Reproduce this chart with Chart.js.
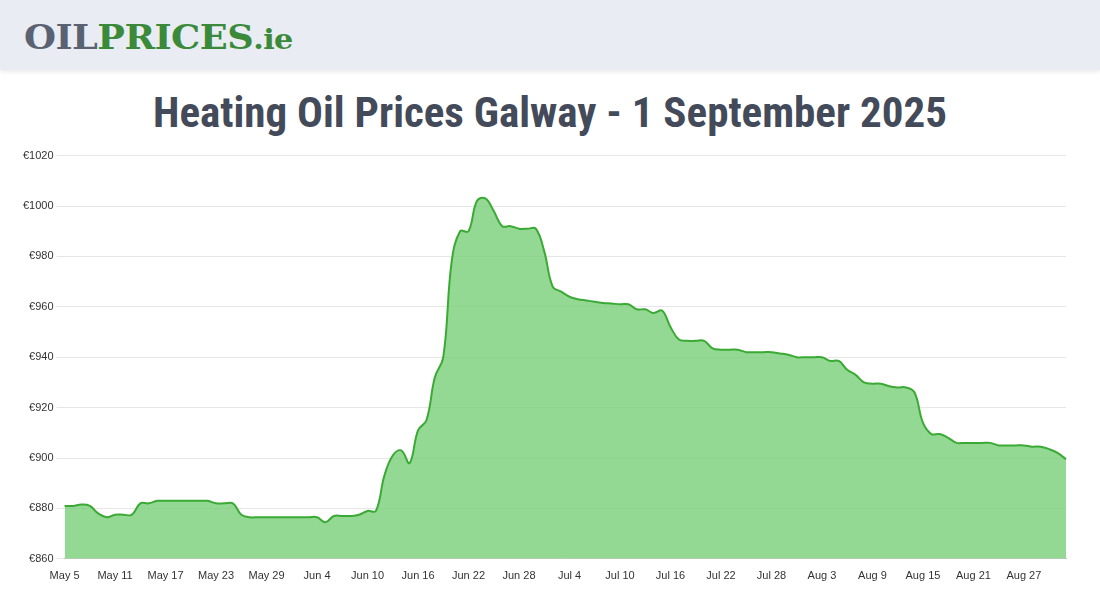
<!DOCTYPE html>
<html><head><meta charset="utf-8">
<script src="https://cdn.jsdelivr.net/npm/chart.js@4"></script>
<style>
body{margin:0;width:1100px;height:600px;background:#fff;font-family:"Liberation Sans",Arial,sans-serif;overflow:hidden}
#hdr{position:absolute;left:0;top:0;width:1100px;height:70px;background:#e9ecf3;box-shadow:0 2px 4px rgba(0,0,0,0.08)}
#logo{position:absolute;left:24px;top:17px;font-family:"DejaVu Serif",serif;font-weight:900;font-size:34px;letter-spacing:-0.5px;line-height:40px;transform:scaleX(1.08);transform-origin:left}
#title{position:absolute;left:0;top:87px;width:1100px;text-align:center;font-family:"Liberation Sans Narrow","Roboto Condensed",sans-serif;font-weight:bold;font-size:43px;color:#434a59}
#wrap{position:absolute;left:20px;top:146px;width:1080px;height:440px}
</style></head><body>
<div id="hdr"><div id="logo"><span style="color:#5a6272">OIL</span><span style="color:#3a8a3a">PRICES</span><span style="color:#3a8a3a;font-size:28px">.ie</span></div></div>
<div id="title">Heating Oil Prices Galway - 1 September 2025</div>
<div id="wrap"><canvas id="c"></canvas></div>
<script>
const startDate = [2025, 4, 5]; // May 5
const prices = [881,881,881.5,881,878,876.5,877.5,877.5,877.5,882,
882,883,883,883,883,883,883,883,882,882,
882,877.5,876.5,876.5,876.5,876.5,876.5,876.5,876.5,876.5,
876.5,874.5,877,877,877,877.5,879,879,893,901,
903,898,911,915,932,940,978,990,990,1002,
1003,998,992,992,991,991,991,982,968,966,
964,963,962.5,962,961.5,961.3,961,961,959,959,
957.5,958.5,952,947,946.5,946.5,946.5,943.5,943,943,
943,942,942,942,942,941.5,941,940,940,940,
940,938.5,938.5,935,933,930,929.5,929.5,928.5,928,
928,926,914,909.5,909.5,908,906,906,906,906,
906,905,905,905,905,904.5,904.5,903.5,902,899.5];
const months = ["Jan","Feb","Mar","Apr","May","Jun","Jul","Aug","Sep","Oct","Nov","Dec"];
const labels = prices.map((_, i) => {
  const d = new Date(startDate[0], startDate[1], startDate[2] + i);
  return months[d.getMonth()] + " " + d.getDate();
});
new Chart(document.getElementById('c'), {
  type: 'line',
  data: { labels, datasets: [{ data: prices, borderColor: '#3aaa35', backgroundColor: 'rgba(120,206,120,0.8)', fill: 'start', borderWidth: 2, pointRadius: 0, tension: 0.4 }] },
  options: {
    responsive: true, maintainAspectRatio: false, animation: false,
    layout: { padding: { right: 34, top: 4 } },
    plugins: { legend: { display: false }, tooltip: { enabled: false } },
    scales: {
      x: { grid: { display: false, drawTicks: true }, border: { color: '#ccc' },
           ticks: { autoSkip: false, maxRotation: 0, color: '#333', font: { size: 11 },
                    callback: (v, i) => i % 6 === 0 ? labels[i] : '' } },
      y: { min: 860, max: 1020, grid: { color: '#e6e6e6' }, border: { display: false },
           ticks: { stepSize: 20, color: '#333', font: { size: 11 }, callback: v => '€' + v } }
    }
  }
});
</script></body></html>
